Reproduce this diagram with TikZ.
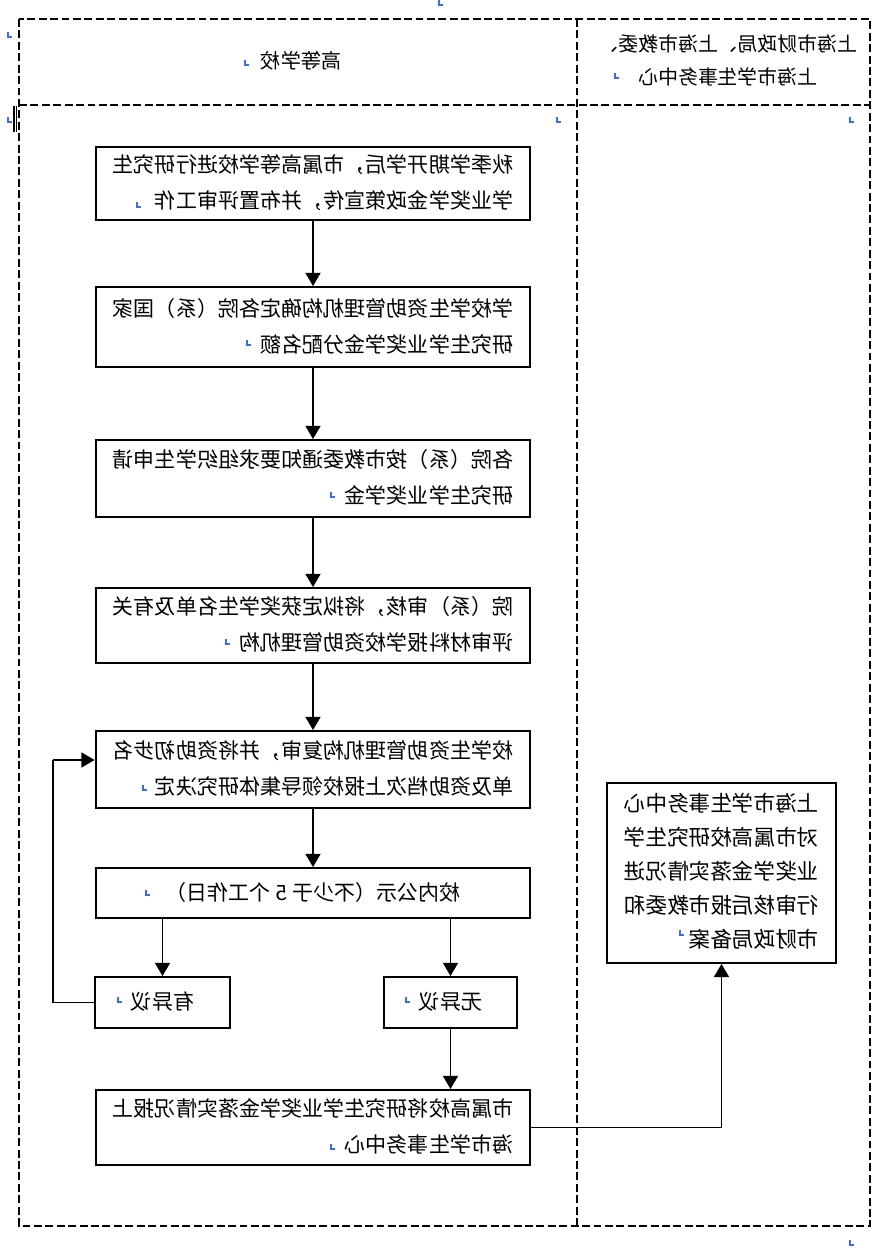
\documentclass[tikz,border=0pt]{standalone}
\usepackage{fontspec}
\usepackage{graphicx}
\setmainfont{Noto Sans CJK SC}
\usetikzlibrary{arrows.meta}

% the page is printed mirrored: text boxes are reflected
\newcommand{\mtext}[1]{\reflectbox{\begin{tabular}{@{}l@{}}#1\end{tabular}}}
\newcommand{\mtextc}[1]{\reflectbox{\begin{tabular}{@{}c@{}}#1\end{tabular}}}
\newcommand{\pmark}[1]{\draw[pmk] (#1) ++(0,-3) -- ++(0,5) -- ++(4,0);}

\definecolor{pblue}{RGB}{60,110,220}

\tikzset{
  frame/.style={line width=1.1pt, dash pattern=on 4.5pt off 2pt},
  box/.style={draw, line width=1.1pt, inner sep=0pt, minimum width=8.7cm,
    font=\fontsize{12pt}{20.4pt}\selectfont},
  arr/.style={line width=1.1pt, -{Triangle[length=7.5pt,width=8.5pt]}},
  pmk/.style={pblue, line width=0.9pt},
}

\begin{document}
\begin{tikzpicture}[x=0.02cm, y=-0.02cm]
  \useasboundingbox (0,0) rectangle (894,1248);

  % lanes
  \draw[frame] (19,19) rectangle (870,1226);
  \draw[frame] (19,105) -- (870,105);
  \draw[frame] (577,19) -- (577,1226);
  \draw[line width=0.6pt] (14,106) -- (14,132);
  \draw[line width=0.6pt] (16.5,106) -- (16.5,132);

  \node[font=\fontsize{11.5pt}{19pt}\selectfont] (hschool) at (301,62) {\mtextc{高等学校}};
  \node[font=\fontsize{11.3pt}{18.7pt}\selectfont] (hcity) at (728,61.5)
    {\mtextc{上海市财政局、上海市教委、\\上海市学生事务中心}};

  % steps
  \node[box, minimum height=1.46cm] (s1) at (313,183.5)
    {\mtext{秋季学期开学后，市属高等学校进行研究生\\学业奖学金政策宣传，并布置评审工作}};
  \node[box, minimum height=1.6cm] (s2) at (313,327)
    {\mtext{学校学生资助管理机构确定各院（系）国家\\研究生学业奖学金分配名额}};
  \node[box, minimum height=1.54cm] (s3) at (313,478.5)
    {\mtext{各院（系）按市教委通知要求组织学生申请\\研究生学业奖学金}};
  \node[box, minimum height=1.5cm] (s4) at (313,625.5)
    {\mtext{院（系）审核，将拟定获奖学生名单及有关\\评审材料报学校资助管理机构}};
  \node[box, minimum height=1.54cm] (s5) at (313,769.5)
    {\mtext{校学生资助管理机构复审，并将资助初步名\\单及资助档次上报校领导集体研究决定}};
  \node[box, minimum height=1cm] (s6) at (313,893)
    {\mtextc{校内公示（不少于 5 个工作日）}};
  \node[box, minimum width=2.7cm, minimum height=1.02cm] (obj) at (162.5,1002.5)
    {\mtextc{有异议}};
  \node[box, minimum width=2.66cm, minimum height=1.02cm] (noobj) at (450.5,1002.5)
    {\mtextc{无异议}};
  \node[box, minimum height=1.5cm] (s7) at (313,1127.5)
    {\mtext{市属高校将研究生学业奖学金落实情况报上\\海市学生事务中心}};
  \node[box, minimum width=4.58cm, minimum height=3.6cm,
    font=\fontsize{12.3pt}{19.3pt}\selectfont] (center) at (721.5,873)
    {\mtext{上海市学生事务中心\\对市属高校研究生学\\业奖学金落实情况进\\行审核后报市教委和\\市财政局备案}};

  % connectors
  \draw[arr] (s1) -- (s2);
  \draw[arr] (s2) -- (s3);
  \draw[arr] (s3) -- (s4);
  \draw[arr] (s4) -- (s5);
  \draw[arr] (s5) -- (s6);
  \draw[arr] (s6.south -| obj.north) -- (obj.north);
  \draw[arr] (s6.south -| noobj.north) -- (noobj.north);
  \draw[arr] (noobj.south) -- (noobj.south |- s7.north);
  \coordinate (back) at (53,760);
  \draw[line width=1.1pt] (obj.west) -| (back);
  \draw[arr] (back) -- (back -| s5.west);
  \draw[arr] (s7.east) -| (center.south);

  % paragraph marks
  \pmark{439,3} \pmark{8,35} \pmark{245,63} \pmark{615,76}
  \pmark{8,120} \pmark{557,120} \pmark{850,120} \pmark{850,1243}
  \pmark{137,205} \pmark{247,343} \pmark{331,495} \pmark{226,642}
  \pmark{143,788} \pmark{146,893} \pmark{118,1000} \pmark{406,1000}
  \pmark{331,1147} \pmark{680,933}
\end{tikzpicture}
\end{document}
